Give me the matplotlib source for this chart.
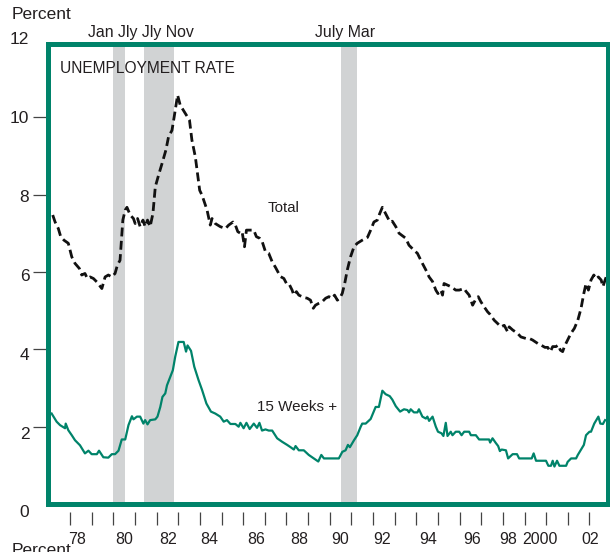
import matplotlib
matplotlib.use("Agg")
import matplotlib.pyplot as plt
import matplotlib.transforms as mtransforms

plt.rcParams['font.family'] = ['Liberation Sans', 'DejaVu Sans']

# --- data ----------------------------------------------------------------
total_year = [1977.20, 1977.31, 1977.46, 1977.57, 1977.72, 1977.92, 1978.08, 1978.23, 1978.43, 1978.54,
              1978.69, 1978.80, 1978.93, 1979.08, 1979.24, 1979.47, 1979.62, 1979.77, 1979.93, 1980.08,
              1980.19, 1980.31, 1980.44, 1980.55, 1980.63, 1980.78, 1980.93, 1981.01, 1981.12, 1981.24,
              1981.37, 1981.47, 1981.58, 1981.70, 1981.83, 1981.94, 1982.09, 1982.25, 1982.43, 1982.55,
              1982.71, 1982.81, 1982.97, 1983.09, 1983.32, 1983.52, 1983.63, 1983.79, 1983.99, 1984.10,
              1984.33, 1984.48, 1984.56, 1984.71, 1984.94, 1985.18, 1985.33, 1985.53, 1985.64, 1985.75,
              1985.87, 1985.95, 1986.06, 1986.15, 1986.33, 1986.49, 1986.61, 1986.76, 1986.88, 1987.03,
              1987.18, 1987.34, 1987.49, 1987.64, 1987.72, 1987.88, 1988.00, 1988.11, 1988.26, 1988.34,
              1988.46, 1988.57, 1988.80, 1988.96, 1989.11, 1989.24, 1989.34, 1989.50, 1989.65, 1989.81,
              1989.96, 1990.12, 1990.22, 1990.35, 1990.47, 1990.58, 1990.69, 1990.81, 1990.96, 1991.12,
              1991.27, 1991.50, 1991.74, 1991.89, 1992.04, 1992.20, 1992.31, 1992.43, 1992.54, 1992.66,
              1992.78, 1992.89, 1993.05, 1993.20, 1993.51, 1993.66, 1993.89, 1994.05, 1994.28, 1994.44,
              1994.59, 1994.75, 1994.90, 1995.00, 1995.13, 1995.21, 1995.28, 1995.44, 1995.59, 1995.82,
              1995.98, 1996.21, 1996.29, 1996.44, 1996.60, 1996.75, 1996.86, 1996.98, 1997.13, 1997.29,
              1997.41, 1997.60, 1997.75, 1997.91, 1998.06, 1998.22, 1998.29, 1998.45, 1998.68, 1998.83,
              1999.06, 1999.22, 1999.37, 1999.61, 1999.76, 1999.94, 2000.07, 2000.19, 2000.30, 2000.45,
              2000.56, 2000.65, 2000.76, 2000.84, 2000.99, 2001.14, 2001.30, 2001.46, 2001.61, 2001.74,
              2001.84, 2001.95, 2002.07, 2002.20, 2002.31, 2002.41, 2002.54, 2002.62, 2002.77]
total_rate = [7.47, 7.29, 7.12, 6.91, 6.82, 6.74, 6.39, 6.22, 6.09, 5.92,
              5.96, 5.83, 5.87, 5.83, 5.74, 5.57, 5.87, 5.92, 5.87, 5.96,
              6.18, 6.30, 7.34, 7.60, 7.67, 7.47, 7.38, 7.25, 7.38, 7.17,
              7.34, 7.17, 7.34, 7.17, 7.51, 8.20, 8.50, 8.80, 9.15, 9.49,
              9.66, 10.00, 10.57, 10.31, 10.10, 9.92, 9.41, 8.97, 8.11, 7.98,
              7.60, 7.21, 7.38, 7.25, 7.17, 7.12, 7.21, 7.29, 7.21, 7.04,
              7.00, 7.04, 6.65, 7.08, 7.08, 7.08, 6.91, 6.87, 6.78, 6.52,
              6.48, 6.26, 6.12, 5.96, 5.88, 5.83, 5.70, 5.70, 5.53, 5.40,
              5.49, 5.40, 5.34, 5.32, 5.27, 5.06, 5.14, 5.19, 5.23, 5.32,
              5.36, 5.32, 5.40, 5.27, 5.32, 5.45, 5.70, 6.05, 6.39, 6.65,
              6.74, 6.82, 6.89, 7.08, 7.29, 7.34, 7.51, 7.67, 7.55, 7.42,
              7.29, 7.31, 7.17, 7.00, 6.87, 6.69, 6.56, 6.48, 6.22, 6.05,
              5.87, 5.75, 5.53, 5.44, 5.53, 5.40, 5.70, 5.66, 5.62, 5.53,
              5.53, 5.57, 5.50, 5.40, 5.14, 5.30, 5.36, 5.23, 5.10, 4.97,
              4.90, 4.75, 4.67, 4.58, 4.62, 4.45, 4.58, 4.50, 4.41, 4.32,
              4.28, 4.28, 4.24, 4.15, 4.11, 4.05, 4.05, 3.94, 4.07, 4.07,
              4.11, 3.98, 3.94, 4.07, 4.24, 4.41, 4.54, 4.75, 5.06, 5.45,
              5.70, 5.53, 5.79, 5.92, 5.82, 5.87, 5.79, 5.62, 5.87]

long_year = [1977.15, 1977.38, 1977.54, 1977.77, 1977.80, 1977.92, 1978.08, 1978.23, 1978.46, 1978.69,
             1978.85, 1979.00, 1979.24, 1979.34, 1979.54, 1979.77, 1979.93, 1980.08, 1980.24, 1980.39,
             1980.55, 1980.70, 1980.86, 1980.93, 1981.09, 1981.24, 1981.39, 1981.47, 1981.58, 1981.70,
             1981.94, 1982.04, 1982.17, 1982.27, 1982.40, 1982.48, 1982.63, 1982.75, 1982.86, 1983.01,
             1983.25, 1983.36, 1983.43, 1983.59, 1983.74, 1983.94, 1984.10, 1984.30, 1984.51, 1984.71,
             1984.94, 1985.10, 1985.25, 1985.41, 1985.64, 1985.79, 1985.87, 1986.02, 1986.15, 1986.30,
             1986.49, 1986.64, 1986.75, 1986.87, 1987.03, 1987.18, 1987.34, 1987.57, 1987.80, 1988.03,
             1988.19, 1988.34, 1988.42, 1988.57, 1988.80, 1989.03, 1989.26, 1989.47, 1989.61, 1989.73,
             1990.04, 1990.42, 1990.58, 1990.73, 1990.84, 1990.93, 1991.12, 1991.27, 1991.43, 1991.50,
             1991.66, 1991.89, 1992.12, 1992.27, 1992.43, 1992.58, 1992.77, 1992.89, 1993.05, 1993.25,
             1993.43, 1993.59, 1993.66, 1993.74, 1993.89, 1994.05, 1994.12, 1994.28, 1994.44, 1994.51,
             1994.59, 1994.75, 1994.90, 1995.00, 1995.16, 1995.25, 1995.36, 1995.44, 1995.59, 1995.67,
             1995.82, 1995.98, 1996.09, 1996.21, 1996.44, 1996.52, 1996.75, 1996.90, 1997.36, 1997.41,
             1997.52, 1997.67, 1997.78, 1997.86, 1997.94, 1998.14, 1998.24, 1998.45, 1998.65, 1998.75,
             1999.06, 1999.33, 1999.42, 1999.53, 1999.76, 1999.99, 2000.10, 2000.22, 2000.30, 2000.38,
             2000.50, 2000.61, 2000.92, 2000.99, 2001.15, 2001.38, 2001.46, 2001.61, 2001.74, 2001.84,
             2002.00, 2002.07, 2002.22, 2002.41, 2002.50, 2002.62, 2002.72]
long_rate = [2.34, 2.13, 2.04, 1.96, 2.08, 1.91, 1.78, 1.65, 1.52, 1.31,
             1.38, 1.29, 1.29, 1.38, 1.21, 1.20, 1.29, 1.29, 1.38, 1.67,
             1.67, 2.04, 2.27, 2.19, 2.26, 2.26, 2.08, 2.17, 2.06, 2.17,
             2.19, 2.26, 2.51, 2.77, 2.86, 3.07, 3.29, 3.46, 3.81, 4.19,
             4.19, 3.94, 4.10, 3.96, 3.55, 3.20, 2.95, 2.60, 2.39, 2.34,
             2.26, 2.13, 2.17, 2.07, 2.07, 2.00, 2.10, 1.96, 2.10, 1.94,
             2.08, 1.97, 2.10, 1.90, 1.93, 1.90, 1.90, 1.70, 1.61, 1.53,
             1.47, 1.41, 1.50, 1.39, 1.39, 1.27, 1.18, 1.10, 1.27, 1.18,
             1.18, 1.18, 1.35, 1.39, 1.53, 1.47, 1.65, 1.78, 2.00, 2.08,
             2.08, 2.20, 2.51, 2.51, 2.93, 2.84, 2.79, 2.70, 2.53, 2.39,
             2.45, 2.43, 2.37, 2.45, 2.37, 2.37, 2.45, 2.26, 2.21, 2.26,
             2.15, 2.26, 2.00, 1.87, 1.83, 1.76, 2.10, 1.76, 1.87, 1.78,
             1.87, 1.87, 1.78, 1.87, 1.87, 1.78, 1.78, 1.67, 1.67, 1.59,
             1.70, 1.58, 1.50, 1.37, 1.41, 1.39, 1.18, 1.29, 1.29, 1.18,
             1.18, 1.18, 1.31, 1.12, 1.12, 1.12, 0.99, 0.99, 1.12, 0.97,
             1.12, 0.99, 0.99, 1.09, 1.18, 1.18, 1.27, 1.41, 1.53, 1.78,
             1.87, 1.87, 2.08, 2.26, 2.08, 2.07, 2.17]

recession_start = [1980.0, 1981.42, 1990.5]
recession_end = [1980.55, 1982.8, 1991.25]

year_ticks = list(range(1978, 2003))
label_pos = [1978.31, 1980.52, 1982.51, 1984.45, 1986.58, 1988.57, 1990.47,
             1992.41, 1994.54, 1996.60, 1998.23, 1999.70, 2002.05]
label_text = ['78', '80', '82', '84', '86', '88', '90', '92', '94', '96', '98', '2000', '02']

GREEN = '#00836a'
TXT = '#231f20'
GRAY = '#d1d3d4'

fig = plt.figure(figsize=(6.10, 5.52), dpi=100)
ax = fig.add_axes([0.0779, 0.0868, 0.919, 0.8335])
ax.set_xlim(1976.96, 2002.86)
ax.set_ylim(0, 11.89)

for s, e in zip(recession_start, recession_end):
    ax.axvspan(s, e, color=GRAY, lw=0, zorder=1)

ax.plot(total_year, total_rate, color='#111111', lw=2.0, dashes=(3.2, 1.6),
        solid_capstyle='butt', zorder=3)
ax.plot(long_year, long_rate, color=GREEN, lw=1.6, zorder=3)

# frame
for side in ['left', 'right', 'top', 'bottom']:
    ax.spines[side].set_visible(False)
frame = plt.Rectangle((0, 0), 1, 1, transform=ax.transAxes, fill=False,
                      ec=GREEN, lw=3.6, clip_on=False, zorder=5)
ax.add_patch(frame)

# x ticks: offset slightly below the frame
ax.spines['bottom'].set_position(('outward', 6))
ax.set_xticks(year_ticks)
ax.set_xticklabels([])
ax.tick_params(axis='x', which='major', direction='out', length=9, width=0.9,
               color='#444444')
ax.set_xticks(label_pos, minor=True)
ax.set_xticklabels(label_text, minor=True)
ax.tick_params(axis='x', which='minor', length=0, pad=14, labelsize=11.5,
               labelcolor=TXT)

# y ticks: marks only, labels as text
ax.set_yticks([2, 4, 6, 8, 10])
ax.set_yticklabels([])
ax.tick_params(axis='y', which='major', direction='out', length=11, width=0.9,
               color='#444444')
ax.tick_params(axis='y', which='minor', length=0)

ylab_vals = [0, 2, 4, 6, 8, 10, 12]
ylab_pos = [-0.22, 1.81, 3.85, 5.89, 7.93, 9.96, 12.0]
trans = mtransforms.blended_transform_factory(ax.transAxes, ax.transData)
for v, p in zip(ylab_vals, ylab_pos):
    ax.text(-0.0325, p, str(v), transform=trans, ha='right', va='center',
            fontsize=12.5, color=TXT, clip_on=False)

fig.text(0.0197, 0.973, 'Percent', ha='left', va='center', fontsize=12.5, color=TXT)
fig.text(0.0197, 0.016, 'Percent', ha='left', va='top', fontsize=12.5, color=TXT)

trans_top = mtransforms.blended_transform_factory(ax.transData, ax.transAxes)
ax.text(1981.26, 1.026, 'Jan Jly Jly Nov', transform=trans_top, ha='center',
        va='center', fontsize=11.4, color=TXT, clip_on=False)
ax.text(1990.72, 1.026, 'July Mar', transform=trans_top, ha='center',
        va='center', fontsize=11.4, color=TXT, clip_on=False)

ax.text(0.0223, 0.9457, 'UNEMPLOYMENT RATE', transform=ax.transAxes, ha='left',
        va='center', fontsize=11.2, color=TXT)
ax.text(1987.14, 7.65, 'Total', ha='left', va='center', fontsize=10.8, color=TXT)
ax.text(1986.63, 2.51, '15 Weeks +', ha='left', va='center', fontsize=10.9, color=TXT)

fig.savefig('out.png', dpi=100)
